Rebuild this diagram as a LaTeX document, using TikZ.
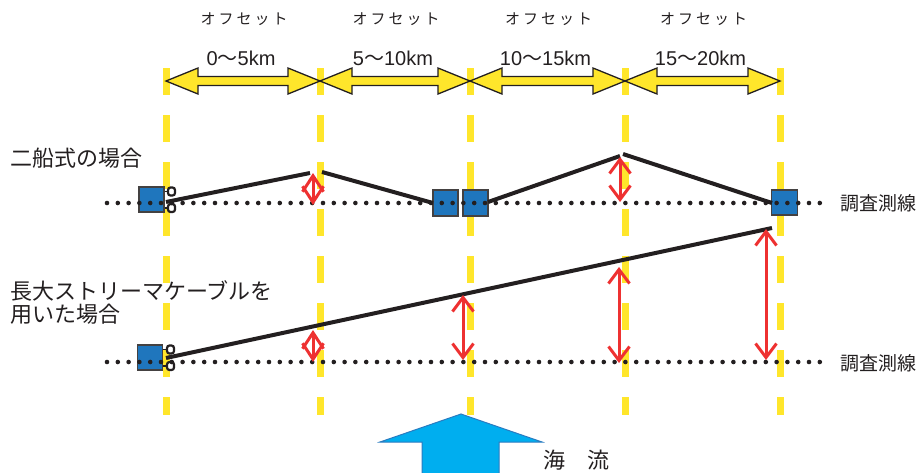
\documentclass[tikz,border=0pt]{standalone}
\usepackage{fontspec}
\setmainfont{Noto Sans CJK JP}
\newfontfamily\jpsp[LetterSpace=20]{Noto Sans CJK JP}
\newfontfamily\lat{Liberation Sans}
\usetikzlibrary{arrows.meta}
\definecolor{ylw}{HTML}{FFE62B}
\definecolor{ink}{HTML}{231F20}
\definecolor{boatblue}{HTML}{1F76BD}
\definecolor{redar}{HTML}{EE3131}
\definecolor{seablue}{HTML}{00AEEF}
\definecolor{seaedge}{HTML}{2A7BC0}
\tikzset{
  yline/.style={draw=ylw,line width=7pt,dash pattern=on 27pt off 20pt},
  yarrow/.style={fill=ylw,draw=ink,line width=1.3pt,line join=miter},
  boat/.style={rectangle,fill=boatblue,draw=ink!85,line width=1.4pt,minimum width=25pt,minimum height=25pt,inner sep=0pt},
  tab/.style={rectangle,rounded corners=2.5pt,fill=white,draw=ink,line width=2.2pt,minimum width=7pt,minimum height=8pt,inner sep=0pt},
  cable/.style={draw=ink,line width=4pt},
  dotline/.style={draw=ink,line width=4.6pt,line cap=round,dash pattern=on 0pt off 10.8pt},
  redarr/.style={draw=redar,line width=3pt,{Straight Barb[length=14pt,width=21pt]}-{Straight Barb[length=14pt,width=21pt]}},
  redshort/.style={draw=redar,line width=3pt,{Straight Barb[length=16pt,width=21pt]}-{Straight Barb[length=16pt,width=21pt]}},
  lbl/.style={text=ink,inner sep=0pt},
}
\begin{document}
\begin{tikzpicture}[x=1pt,y=-1pt]
\useasboundingbox (0,0) rectangle (916,472);
% yellow dashed offset lines
\foreach \x [count=\i] in {166,320,470,625,780}{
  \coordinate (yt\i) at (\x,68);
  \coordinate (yb\i) at (\x,415);
  \draw[yline] (yt\i) -- (yb\i);
}
% yellow double arrows
\foreach \a/\b/\p/\q in {166/320/0/5,320/470/5/10,470/625/10/15,625/780/15/20}{
  \draw[yarrow] (\a,81) -- (\a+32,68) -- (\a+32,76.5) -- (\b-32,76.5) -- (\b-32,68) -- (\b,81)
     -- (\b-32,94) -- (\b-32,85.5) -- (\a+32,85.5) -- (\a+32,94) -- cycle;
  \node[lbl,anchor=base,font=\fontsize{20}{20}\selectfont] at ({(\a+\b)/2-2},65) {{\lat\p}〜{\lat\q km}};
  \node[lbl,font=\jpsp\fontsize{15}{15}\selectfont] at ({(\a+\b)/2+1},19.5) {オフセット};
}
% left labels
\node[lbl,anchor=west,font=\fontsize{22}{22}\selectfont] (t1) at (10,158) {二船式の場合};
\node[lbl,anchor=west,font=\fontsize{22}{23}\selectfont,align=left] (t2) at (10,302.5) {長大ストリーマケーブルを\\用いた場合};
% cable vertices
\coordinate (c1s) at (166,202); \coordinate (c1e) at (310,173);
\coordinate (c2s) at (322,172); \coordinate (c2e) at (433,203);
\coordinate (c3s) at (488,202); \coordinate (c3e) at (620,156);
\coordinate (c4s) at (623,154); \coordinate (c4e) at (772,203);
\coordinate (c5s) at (166,358); \coordinate (c5e) at (772,228);
% boats
\node[boat] (u1) at (151.5,199.5) {};
\node[boat,minimum height=26pt] (m1) at (445.5,203) {};
\node[boat,minimum height=26pt] (m2) at (475.5,203) {};
\node[boat,minimum width=26pt] (u2) at (784.5,202.5) {};
\node[boat] (l1) at (150,357.5) {};
% tabs
\node[tab] (u1a) at (171.5,191.5) {};
\node[tab] (u1b) at (171.5,208) {};
\node[tab] (l1a) at (170.5,349.5) {};
\node[tab] (l1b) at (170.5,366) {};
\draw[ink,line width=1.6pt] (u1.east |- u1a) -- (u1a.west) (u1.east |- u1b) -- (u1b.west);
\draw[ink,line width=1.6pt] (l1.east |- l1a) -- (l1a.west) (l1.east |- l1b) -- (l1b.west);
\draw[cable] (c1s) -- (c1e);
\draw[cable] (c2s) -- (c2e);
\draw[cable] (c3s) -- (c3e);
\draw[cable] (c4s) -- (c4e);
\draw[cable] (c5s) -- (c5e);
% survey lines (dotted)
\coordinate (d1s) at (107,203); \coordinate (d1e) at (830,203);
\coordinate (d2s) at (107,362); \coordinate (d2e) at (830,362);
\draw[dotline] (d1s) -- (d1e);
\draw[dotline] (d2s) -- (d2e);
\node[lbl,anchor=west,font=\fontsize{19}{19}\selectfont] (s1) at (840,203) {調査測線};
\node[lbl,anchor=west,font=\fontsize{19}{19}\selectfont] (s2) at (840,363.5) {調査測線};
% red arrows
\coordinate (r1t) at (313,173); \coordinate (r1b) at (313,205);
\coordinate (r2t) at (620,157); \coordinate (r2b) at (620,202);
\coordinate (r3t) at (313,330); \coordinate (r3b) at (313,362);
\coordinate (r4t) at (463,295); \coordinate (r4b) at (463,360);
\coordinate (r5t) at (619,267); \coordinate (r5b) at (619,363);
\coordinate (r6t) at (766,229); \coordinate (r6b) at (766,360);
\draw[redshort] (r1t) -- (r1b);
\draw[redarr] (r2t) -- (r2b);
\draw[redshort] (r3t) -- (r3b);
\draw[redarr] (r4t) -- (r4b);
\draw[redarr] (r5t) -- (r5b);
\draw[redarr] (r6t) -- (r6b);
% sea current arrow
\draw[fill=seablue,draw=seaedge,line width=1pt,line join=miter] (461,414) -- (542,442) -- (499,442) -- (499,474) -- (422,474) -- (422,442) -- (380,442) -- cycle;
\node[lbl,anchor=west,font=\fontsize{22}{22}\selectfont] (sea) at (543,460) {海　流};
\end{tikzpicture}
\end{document}
